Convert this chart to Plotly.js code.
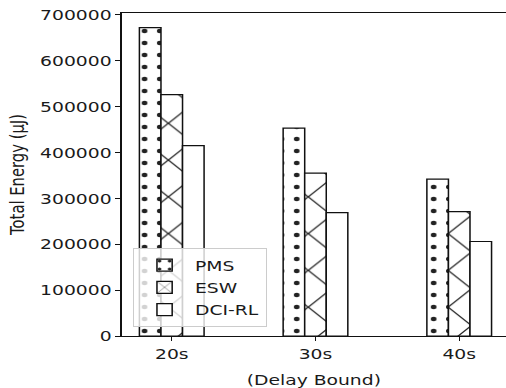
<!DOCTYPE html>
<html>
<head>
<meta charset="utf-8">
<script src="https://cdn.plot.ly/plotly-3.0.1.min.js"></script>
<style>
  html, body { margin: 0; padding: 0; overflow: hidden; background: #fff; }
  #wrap { width: 506px; height: 388px; overflow: hidden; }
  #chart { width: 399px; height: 388px; transform: scaleX(1.268); transform-origin: 0 0; }
</style>
</head>
<body>
<div id="wrap"><div id="chart"></div></div>
<script>
const categories = ['20s', '30s', '40s'];
const seriesNames = ['PMS', 'ESW', 'DCI-RL'];
const pmsValues = [672000, 453000, 342000];
const eswValues = [526000, 355000, 271000];
const dciValues = [415000, 269000, 206000];
const yTickValues = [0, 100000, 200000, 300000, 400000, 500000, 600000, 700000];

const font = { family: 'DejaVu Sans', size: 14.8, color: '#1a1a1a' };
const line = { color: '#111', width: 1.2 };

const traces = [
  { name: seriesNames[0], y: pmsValues,
    marker: { color: 'white', line: line,
      pattern: { shape: '.', size: 12, solidity: 0.11, fgcolor: '#222', bgcolor: 'white', fillmode: 'replace' } } },
  { name: seriesNames[1], y: eswValues,
    marker: { color: 'white', line: line,
      pattern: { shape: 'x', size: 26, solidity: 0.09, fgcolor: '#222', bgcolor: 'white', fillmode: 'replace' } } },
  { name: seriesNames[2], y: dciValues,
    marker: { color: 'white', line: line } }
].map((t, i) => Object.assign({ type: 'bar', x: categories, legendgroup: 'g' + i, hoverinfo: 'skip' }, t));

const layout = {
  width: 399, height: 388,
  margin: { l: 96, r: 0, t: 13, b: 52 },
  paper_bgcolor: 'white', plot_bgcolor: 'white',
  font: font,
  barmode: 'group', bargap: 0.55, bargroupgap: 0,
  showlegend: true,
  legend: {
    x: 0.029, y: 0.028, xanchor: 'left', yanchor: 'bottom',
    bgcolor: 'rgba(255,255,255,0.8)', bordercolor: '#cccccc', borderwidth: 1,
    font: font, itemwidth: 38, tracegroupgap: 7, traceorder: 'normal'
  },
  xaxis: {
    type: 'category', range: [-0.348, 2.325],
    showline: true, linecolor: '#111', linewidth: 1, mirror: true,
    ticks: 'outside', ticklen: 4, tickwidth: 1, tickcolor: '#111',
    showgrid: false, zeroline: false,
    title: { text: '(Delay Bound)', font: font, standoff: 14 }
  },
  yaxis: {
    range: [0, 704000],
    tickvals: yTickValues, tickformat: 'd',
    showline: true, linecolor: '#111', linewidth: 1, mirror: false,
    ticks: 'outside', ticklen: 4, tickwidth: 1, tickcolor: '#111',
    showgrid: false, zeroline: false,
    title: { text: 'Total Energy (μJ)', font: font, standoff: 8 }
  }
};

Plotly.newPlot('chart', traces, layout, { staticPlot: true, displayModeBar: false });
</script>
</body>
</html>
